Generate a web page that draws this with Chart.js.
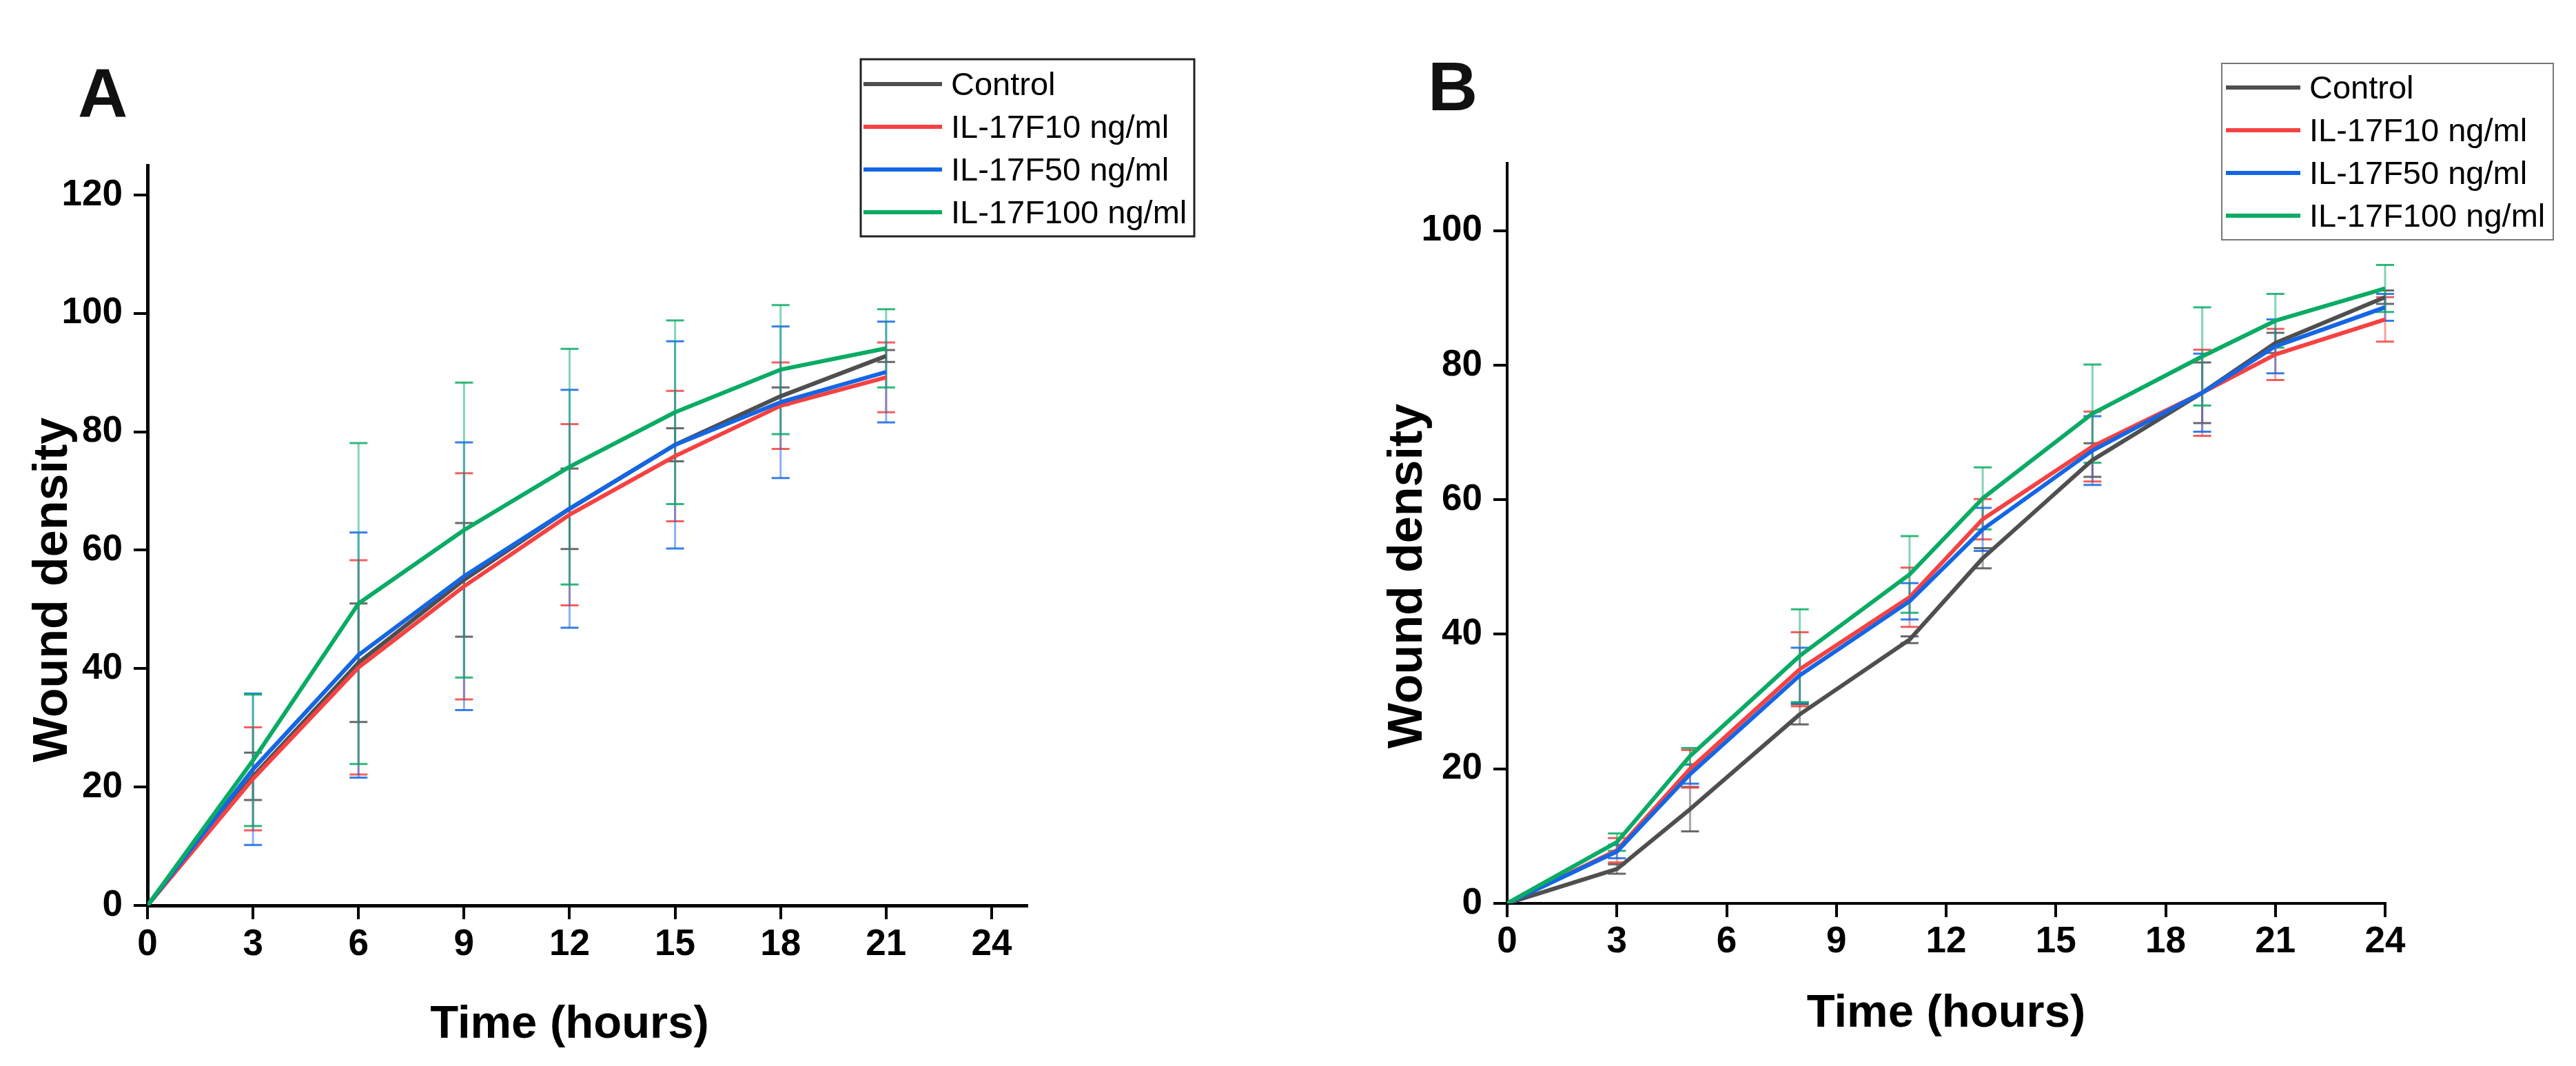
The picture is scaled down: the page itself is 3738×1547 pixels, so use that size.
<!DOCTYPE html>
<html>
<head>
<meta charset="utf-8">
<script src="https://cdn.jsdelivr.net/npm/chart.js@4.4.1/dist/chart.umd.min.js"></script>
<style>
html,body{margin:0;padding:0;background:#fff;}
#wrap{position:relative;width:3738px;height:1547px;overflow:hidden;background:#fff;}
canvas{position:absolute;top:0;}
</style>
</head>
<body>
<div id="wrap">
  <canvas id="cA" width="1869" height="1547" style="left:0;width:1869px;height:1547px"></canvas>
  <canvas id="cB" width="1869" height="1547" style="left:1869px;width:1869px;height:1547px"></canvas>
</div>
<script>
// ---------- data ----------
const seriesLabels = ['Control', 'IL-17F10 ng/ml', 'IL-17F50 ng/ml', 'IL-17F100 ng/ml'];
const seriesColors = ['#4f4f4f', '#f54242', '#1466e4', '#0aab64'];

// Panel A
const timeA    = [0, 3, 6, 9, 12, 15, 18, 21];
const controlA = [0, 21.8, 41.0, 55.0, 67.0, 77.8, 86.0, 92.8];
const il10A    = [0, 21.4, 40.2, 53.9, 66.0, 75.9, 84.4, 89.2];
const il50A    = [0, 23.0, 42.3, 55.6, 67.0, 77.8, 85.0, 90.1];
const il100A   = [0, 24.5, 51.0, 63.4, 74.1, 83.3, 90.5, 94.1];
const controlErrA = [0, 4.0, 10.0, 9.6, 6.8, 2.8, 1.5, 1.0];
const il10ErrA    = [0, 8.7, 18.1, 19.1, 15.3, 11.0, 7.3, 5.9];
const il50ErrA    = [0, 12.8, 20.7, 22.6, 20.1, 17.5, 12.8, 8.5];
const il100ErrA   = [0, 11.1, 27.1, 24.9, 19.9, 15.5, 10.9, 6.6];
const yTicksA = {min: 0, max: 125, step: 20};
const xTicksA = {min: 0, max: 25, step: 3};

// Panel B
const timeB    = [0, 3, 5, 8, 11, 13, 16, 19, 21, 24];
const controlB = [0, 5.1, 14.0, 28.1, 39.2, 51.3, 65.9, 75.9, 83.3, 90.1];
const il10B    = [0, 7.9, 20.0, 34.8, 45.5, 57.1, 67.9, 75.9, 81.6, 86.8];
const il50B    = [0, 7.7, 19.2, 33.9, 44.9, 55.6, 67.3, 75.9, 82.8, 88.6];
const il100B   = [0, 9.1, 21.9, 36.8, 48.9, 60.2, 72.8, 81.3, 86.6, 91.4];
const controlErrB = [0, 0.7, 3.3, 1.5, 0.5, 1.5, 2.5, 4.5, 1.5, 1.0];
const il10ErrB    = [0, 1.8, 2.8, 5.5, 4.4, 3.0, 5.2, 6.4, 3.8, 3.3];
const il50ErrB    = [0, 1.0, 1.4, 4.1, 2.7, 3.2, 5.1, 5.8, 4.0, 2.0];
const il100ErrB   = [0, 1.3, 1.2, 6.9, 5.7, 4.6, 7.3, 7.3, 4.0, 3.5];
const yTicksB = {min: 0, max: 110, step: 20};
const xTicksB = {min: 0, max: 24, step: 3};

const xTitle = 'Time (hours)';
const yTitle = 'Wound density';

// ---------- helpers ----------
const tickFamily = "'Liberation Sans Narrow', 'Arial Narrow', 'Liberation Sans', Arial, sans-serif";
const textFamily = "'Liberation Sans', Arial, sans-serif";

function pts(t, v) { return t.map((x, i) => ({x: x, y: v[i]})); }

function makeDatasets(t, vals, errs) {
  return vals.map((v, i) => ({
    label: seriesLabels[i],
    data: pts(t, v),
    errors: errs[i],
    borderColor: seriesColors[i],
    backgroundColor: seriesColors[i],
    borderWidth: 6,
    pointRadius: 0,
    pointHoverRadius: 0,
    tension: 0,
    fill: false,
    borderJoinStyle: 'round',
    order: vals.length - i
  }));
}

const errorBars = {
  id: 'errorBars',
  beforeDatasetsDraw(chart, args, opts) {
    const {ctx} = chart;
    const x = chart.scales.x, y = chart.scales.y;
    ctx.save();
    chart.data.datasets.forEach(ds => {
      if (!ds.errors) return;
      ds.data.forEach((p, j) => {
        const e = ds.errors[j];
        if (!e) return;
        const px = x.getPixelForValue(p.x);
        const top = y.getPixelForValue(p.y + e);
        const bot = y.getPixelForValue(p.y - e);
        ctx.strokeStyle = ds.borderColor;
        ctx.globalAlpha = 0.5;
        ctx.lineWidth = opts.barWidth;
        ctx.beginPath();
        ctx.moveTo(px, top); ctx.lineTo(px, bot);
        ctx.stroke();
        ctx.globalAlpha = 0.85;
        ctx.lineWidth = opts.capWidth;
        ctx.beginPath();
        ctx.moveTo(px - opts.capHalf, top); ctx.lineTo(px + opts.capHalf, top);
        ctx.moveTo(px - opts.capHalf, bot); ctx.lineTo(px + opts.capHalf, bot);
        ctx.stroke();
      });
    });
    ctx.restore();
  }
};

const decor = {
  id: 'decor',
  afterDraw(chart, args, o) {
    const {ctx} = chart;
    ctx.save();
    // panel letter
    ctx.fillStyle = '#111';
    ctx.font = 'bold 100px ' + textFamily;
    ctx.textAlign = 'left';
    ctx.textBaseline = 'alphabetic';
    ctx.fillText(o.letter, o.letterX, o.letterY);
    // x title
    ctx.fillStyle = '#000';
    ctx.font = 'bold 67px ' + textFamily;
    ctx.textAlign = 'center';
    ctx.fillText(xTitle, chart.scales.x.getPixelForValue(12), o.xTitleY);
    // y title
    ctx.save();
    ctx.translate(o.yTitleX, o.yTitleY);
    ctx.rotate(-Math.PI / 2);
    ctx.font = 'bold 70px ' + textFamily;
    ctx.textAlign = 'center';
    ctx.fillText(yTitle, 0, 0);
    ctx.restore();
    // legend
    const L = o.legend;
    ctx.fillStyle = '#fff';
    ctx.fillRect(L.x, L.y, L.w, L.h);
    ctx.strokeStyle = L.border;
    ctx.lineWidth = L.borderWidth;
    ctx.strokeRect(L.x, L.y, L.w, L.h);
    ctx.font = '47px ' + textFamily;
    ctx.textAlign = 'left';
    chart.data.datasets.forEach((ds, i) => {
      const ry = L.row0 + i * L.rowGap;
      ctx.strokeStyle = ds.borderColor;
      ctx.lineWidth = 6;
      ctx.beginPath();
      ctx.moveTo(L.lineX0, ry); ctx.lineTo(L.lineX1, ry);
      ctx.stroke();
      ctx.fillStyle = '#000';
      ctx.fillText(ds.label, L.textX, ry + 16);
    });
    ctx.restore();
  }
};

function axisOpts(t, isX, borderW, pad, fitSize) {
  return {
    type: 'linear',
    min: t.min, max: t.max,
    bounds: 'data',
    border: {display: true, color: '#000', width: borderW},
    grid: {display: true, drawOnChartArea: false, drawTicks: true, tickLength: 20, tickWidth: 4, tickColor: '#000', lineWidth: 4, color: '#000'},
    ticks: {stepSize: t.step, includeBounds: false, color: '#000', padding: pad, maxRotation: 0, autoSkip: false,
            font: {family: tickFamily, size: 53, weight: 'bold'}},
    title: {display: false},
    afterBuildTicks(scale) {
      scale.ticks = scale.ticks.filter(tk => Math.abs(tk.value / t.step - Math.round(tk.value / t.step)) < 1e-6);
    },
    afterFit(scale) { if (isX) scale.height = fitSize; else scale.width = fitSize; }
  };
}

function build(id, t, vals, errs, xT, yT, area, borderW, xPad, decorOpts) {
  const W = 1869, H = 1547;
  return new Chart(document.getElementById(id), {
    type: 'line',
    data: {datasets: makeDatasets(t, vals, errs)},
    options: {
      responsive: false,
      maintainAspectRatio: false,
      devicePixelRatio: 1,
      animation: false,
      events: [],
      layout: {padding: {top: area.top, right: W - area.right, left: 0, bottom: 0}},
      scales: {
        x: axisOpts(xT, true, borderW, xPad, H - area.bottom),
        y: axisOpts(yT, false, borderW, 16, area.left)
      },
      plugins: {
        legend: {display: false},
        tooltip: {enabled: false},
        errorBars: {barWidth: 3, capWidth: 3, capHalf: 13},
        decor: decorOpts
      }
    },
    plugins: [errorBars, decor]
  });
}

build('cA', timeA, [controlA, il10A, il50A, il100A], [controlErrA, il10ErrA, il50ErrA, il100ErrA],
  xTicksA, yTicksA, {left: 214, right: 1490, top: 240, bottom: 1314}, 5, 6,
  {letter: 'A', letterX: 113, letterY: 170, xTitleY: 1506, yTitleX: 97, yTitleY: 856,
   legend: {x: 1249, y: 86, w: 484, h: 257, border: '#222', borderWidth: 3,
            row0: 122, rowGap: 62, lineX0: 1253, lineX1: 1367, textX: 1380}});

build('cB', timeB, [controlB, il10B, il50B, il100B], [controlErrB, il10ErrB, il50ErrB, il100ErrB],
  xTicksB, yTicksB, {left: 318, right: 1592, top: 237, bottom: 1311}, 4, 5,
  {letter: 'B', letterX: 203, letterY: 160, xTitleY: 1490, yTitleX: 194, yTitleY: 836,
   legend: {x: 1355, y: 92, w: 481, h: 256, border: '#777', borderWidth: 2,
            row0: 127, rowGap: 62, lineX0: 1361, lineX1: 1469, textX: 1482}});
</script>
</body>
</html>
